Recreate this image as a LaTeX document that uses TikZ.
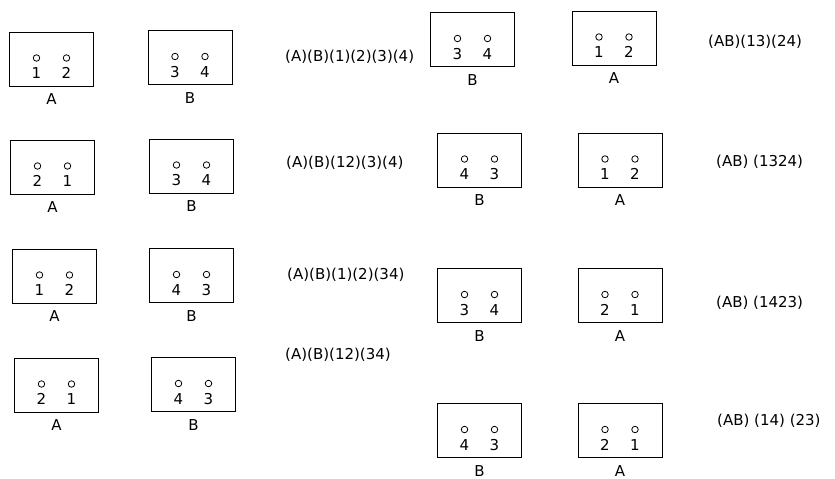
\documentclass[tikz,border=0pt]{standalone}
\usepackage{fontspec}
\setmainfont{DejaVu Sans}
\usetikzlibrary{calc, positioning}

\begin{document}
\begin{tikzpicture}[x=1pt, y=-1pt,
  plate/.style={draw, line width=1pt, minimum width=84pt, minimum height=54pt, inner sep=0pt},
  pin/.style={circle, draw, line width=0.8pt, minimum size=6.5pt, inner sep=0pt},
  txt/.style={font=\fontsize{15}{15}\selectfont, inner sep=0pt},
  perm/.style={txt, anchor=west}]
\useasboundingbox (0,0) rectangle (835,479);

% one plug: name, centre, left number, right number, letter
\def\plug#1#2#3#4#5{%
  \node[plate] (#1) at (#2) {};
  \node[pin] (#1p) at ($(#1.center)+(-15,-1)$) {};
  \node[pin] (#1q) at ($(#1.center)+(15,-1)$) {};
  \node[txt, below=6pt of #1p] (#1m) {#3};
  \node[txt, below=6pt of #1q] (#1n) {#4};
  \node[txt, below=7pt of #1] (#1l) {#5};
}

% left column
\plug{A1}{51.5,59}{1}{2}{A}
\plug{B1}{190,57.5}{3}{4}{B}
\plug{A2}{52.5,167}{2}{1}{A}
\plug{B2}{191.5,166}{3}{4}{B}
\plug{A3}{54.5,276}{1}{2}{A}
\plug{B3}{191.5,275.5}{4}{3}{B}
\plug{A4}{56.5,385}{2}{1}{A}
\plug{B4}{193.5,384.5}{4}{3}{B}

\node[perm] (p1) at (285,57) {(A)(B)(1)(2)(3)(4)};
\node[perm] (p2) at (286,163) {(A)(B)(12)(3)(4)};
\node[perm] (p3) at (287,275) {(A)(B)(1)(2)(34)};
\node[perm] (p4) at (285,355) {(A)(B)(12)(34)};

% right column
\plug{B1r}{472.5,39.5}{3}{4}{B}
\plug{A1r}{614,38}{1}{2}{A}
\plug{B2r}{479.5,160}{4}{3}{B}
\plug{A2r}{620,160}{1}{2}{A}
\plug{B3r}{479.5,295.5}{3}{4}{B}
\plug{A3r}{620,295.5}{2}{1}{A}
\plug{B4r}{479.5,430.5}{4}{3}{B}
\plug{A4r}{620,430.5}{2}{1}{A}

\node[perm] (q1) at (708,42) {(AB)(13)(24)};
\node[perm] (q2) at (716,162) {(AB) (1324)};
\node[perm] (q3) at (716,303) {(AB) (1423)};
\node[perm] (q4) at (717,421) {(AB) (14) (23)};
\end{tikzpicture}
\end{document}
